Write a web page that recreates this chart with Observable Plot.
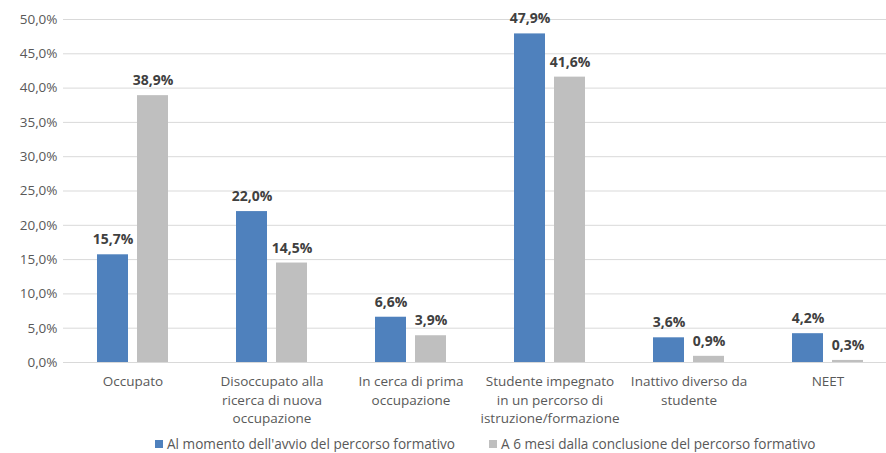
<!DOCTYPE html>
<html>
<head>
<meta charset="utf-8">
<script src="https://cdn.jsdelivr.net/npm/d3@7"></script>
<script src="https://cdn.jsdelivr.net/npm/@observablehq/plot@0.6"></script>
<style>
  body { margin: 0; background: #fff; font-family: "Open Sans", sans-serif; overflow: hidden; }
  #chart svg { display: block; }
  .legend { display: flex; justify-content: flex-start; gap: 34px; font-size: 13.6px; line-height: 16px; color: #595959; height: 16px; align-items: center; padding-left: 155px; margin-top: 4px; }
  .legend span.sw { display: inline-block; width: 8px; height: 8px; margin-right: 4px; vertical-align: middle; position: relative; top: -1px; }
</style>
</head>
<body>
<div id="chart"></div>
<script>
const categories = [
  "Occupato",
  "Disoccupato alla\nricerca di nuova\noccupazione",
  "In cerca di prima\noccupazione",
  "Studente impegnato\nin un percorso di\nistruzione/formazione",
  "Inattivo diverso da\nstudente",
  "NEET"
];
const series = [
  "Al momento dell'avvio del percorso formativo",
  "A 6 mesi dalla conclusione del percorso formativo"
];
const avvio = [15.7, 22.0, 6.6, 47.9, 3.6, 4.2];
const seiMesi = [38.9, 14.5, 3.9, 41.6, 0.9, 0.3];
const yTicks = [0, 5, 10, 15, 20, 25, 30, 35, 40, 45, 50];
const colors = ["#4f81bd", "#bfbfbf"];

const data = [];
categories.forEach((c, i) => {
  data.push({cat: c, series: series[0], value: avvio[i]});
  data.push({cat: c, series: series[1], value: seiMesi[i]});
});
const fmt = v => v.toFixed(1).replace(".", ",") + "%";

const chart = Plot.plot({
  width: 886,
  height: 432,
  marginLeft: 62,
  marginRight: -11,
  marginTop: 19,
  marginBottom: 70,
  style: {fontFamily: "Open Sans, sans-serif", fontSize: "13.5px", color: "#595959", background: "#fff", overflow: "hidden"},
  fx: {domain: categories, padding: 0, label: null},
  x: {domain: series, paddingInner: 0.225, paddingOuter: 0.85, axis: null},
  y: {domain: [0, 50], ticks: yTicks, tickFormat: fmt, label: null},
  color: {domain: series, range: colors},
  marks: [
    Plot.gridY(yTicks, {stroke: "#d9d9d9", strokeOpacity: 1}),
    Plot.axisY(yTicks, {tickSize: 0, tickPadding: 6, tickFormat: fmt, fill: "#595959", fontSize: 13.5}),
    Plot.axisFx({anchor: "bottom", tickSize: 0, tickPadding: 11, lineHeight: 1.35, fill: "#595959", fontSize: 13.5, label: null}),
    Plot.barY(data, {fx: "cat", x: "series", y: "value", fill: "series"}),
    Plot.ruleY([0], {stroke: "#d9d9d9"}),
    Plot.text(data, {fx: "cat", x: "series", y: "value", text: d => fmt(d.value), dy: -15, fontWeight: "bold", fill: "#404040", fontSize: 14})
  ]
});
document.getElementById("chart").appendChild(chart);

const legend = document.createElement("div");
legend.className = "legend";
series.forEach((s, i) => {
  const item = document.createElement("div");
  const sw = document.createElement("span");
  sw.className = "sw";
  sw.style.background = colors[i];
  item.appendChild(sw);
  item.appendChild(document.createTextNode(s));
  legend.appendChild(item);
});
document.body.appendChild(legend);
</script>
</body>
</html>
